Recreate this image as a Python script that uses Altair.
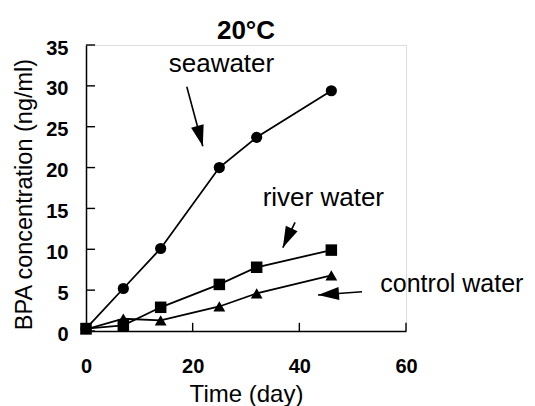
import altair as alt
import pandas as pd

days = [0, 7, 14, 25, 32, 46]
seawater = [0.3, 5.2, 10.1, 20.0, 23.7, 29.4]
river = [0.3, 0.7, 2.9, 5.7, 7.8, 9.9]
control = [0.2, 1.5, 1.3, 3.0, 4.6, 6.8]

series_names = ["seawater", "river water", "control water"]
series_shapes = ["circle", "square", "triangle-up"]

rows = []
for name, vals in zip(series_names, [seawater, river, control]):
    for d, v in zip(days, vals):
        rows.append({"day": d, "conc": v, "series": name})
df = pd.DataFrame(rows)

# annotation labels and arrows (data units)
label_text = ["seawater", "river water", "control water"]
label_x = [25.4, 44.5, 68.6]
label_y = [32.7, 16.3, 5.75]
label_size = [26, 26, 25]
arrow_x0 = [18.9, 39.2, 51.75]
arrow_y0 = [29.9, 13.3, 4.8]
arrow_x1 = [21.9, 36.9, 43.5]
arrow_y1 = [22.6, 10.2, 4.4]
arrow_angle = [345, 25, 86]

# inward tick marks
y_ticks = [0, 5, 10, 15, 20, 25, 30, 35]
x_ticks = [20, 40, 60]

labels_df = pd.DataFrame({"text": label_text, "x": label_x, "y": label_y, "fs": label_size})
arrows_df = pd.DataFrame({"x0": arrow_x0, "y0": arrow_y0, "x1": arrow_x1,
                          "y1": arrow_y1, "angle": arrow_angle})
yt_df = pd.DataFrame({"y": y_ticks, "x0": [0] * len(y_ticks), "x1": [1.7] * len(y_ticks)})
xt_df = pd.DataFrame({"x": x_ticks, "y0": [0] * len(x_ticks), "y1": [1.0] * len(x_ticks)})

FONT = "Liberation Sans"
ARROW = "M0,0L-1.3,-4.2L1.3,-4.2Z"

xscale = alt.Scale(domain=[0, 60], nice=False)
yscale = alt.Scale(domain=[0, 35], nice=False)

xaxis = alt.Axis(values=[0, 20, 40, 60], ticks=False, grid=False, labelPadding=25,
                 labelFlush=False, labelFontSize=20, labelFont=FONT, labelColor="black",
                 labelFontWeight="bold",
                 title="Time (day)", titleFontSize=24, titleFont=FONT, titleColor="black",
                 titleFontWeight="normal", titlePadding=6, domainColor="black", domainWidth=1.5)
yaxis = alt.Axis(values=y_ticks, ticks=False, grid=False, labelPadding=18, labelOffset=3,
                 labelFlush=False, labelFontSize=20, labelFont=FONT, labelColor="black",
                 labelFontWeight="bold",
                 title="BPA concentration (ng/ml)", titleFontSize=23.5, titleFont=FONT,
                 titleColor="black", titleFontWeight="normal", titlePadding=9, titleY=149,
                 domainColor="black", domainWidth=1.5)

base = alt.Chart(df)
lines = base.mark_line(color="black", strokeWidth=1.8).encode(
    x=alt.X("day:Q", scale=xscale, axis=xaxis),
    y=alt.Y("conc:Q", scale=yscale, axis=yaxis),
    detail="series:N",
)
points = base.mark_point(filled=True, color="black", opacity=1).encode(
    x="day:Q",
    y="conc:Q",
    shape=alt.Shape("series:N", scale=alt.Scale(domain=series_names, range=series_shapes), legend=None),
    size=alt.Size("series:N", scale=alt.Scale(domain=series_names, range=[125, 140, 150]), legend=None),
)

ytick_layer = alt.Chart(yt_df).mark_rule(color="black", strokeWidth=1.4).encode(
    x="x0:Q", x2="x1:Q", y="y:Q")
xtick_layer = alt.Chart(xt_df).mark_rule(color="black", strokeWidth=1.4).encode(
    x="x:Q", y="y0:Q", y2="y1:Q")

texts = alt.Chart(labels_df).mark_text(font=FONT, color="black").encode(
    x="x:Q", y="y:Q", text="text:N", size=alt.Size("fs:Q", scale=None))

arrow_lines = alt.Chart(arrows_df).mark_rule(color="black", strokeWidth=1.6).encode(
    x="x0:Q", y="y0:Q", x2="x1:Q", y2="y1:Q")
arrow_heads = alt.Chart(arrows_df).mark_point(shape=ARROW, filled=True, color="black",
                                              opacity=1, size=100).encode(
    x="x1:Q", y="y1:Q", angle=alt.Angle("angle:Q", scale=None))

chart = alt.layer(lines, points, ytick_layer, xtick_layer, arrow_lines, arrow_heads, texts).properties(
    width=320, height=286,
    title=alt.TitleParams("20°C", fontSize=26, font=FONT, fontWeight="bold", color="black",
                          offset=8, dy=14),
    autosize=alt.AutoSizeParams(type="none"),
    padding={"left": 78, "top": 37, "right": 121, "bottom": 75},
).configure_view(stroke=None).configure(background="white")

chart.save("out.html", embed_options={"renderer": "svg", "actions": False})
